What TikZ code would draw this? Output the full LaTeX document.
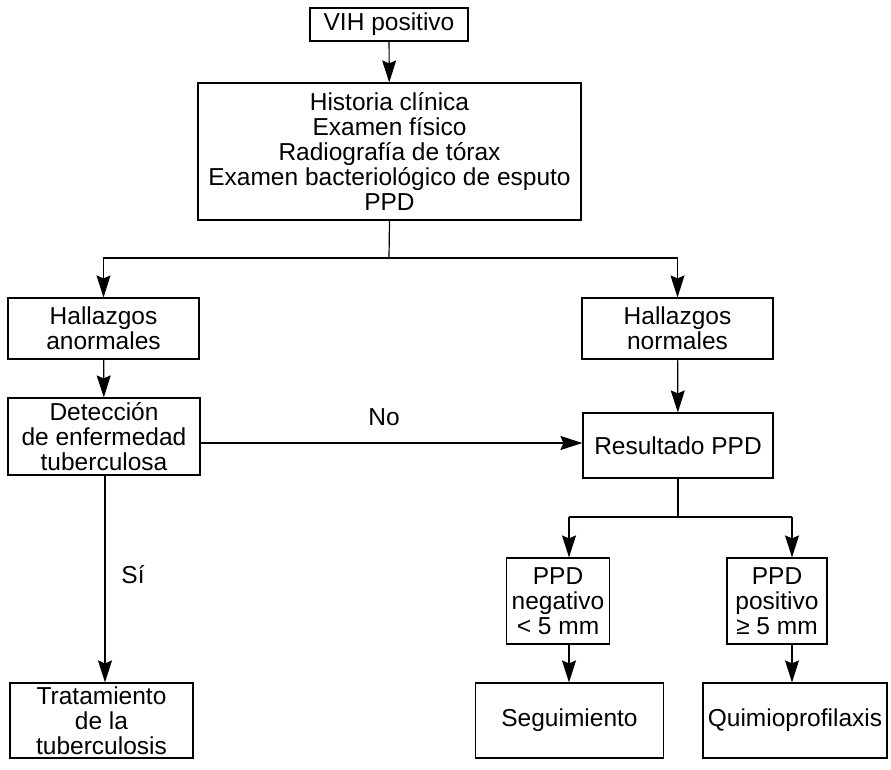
\documentclass[tikz,border=0pt]{standalone}
\usepackage{fontspec}
\setmainfont{Liberation Sans}
\usetikzlibrary{arrows.meta}

\tikzset{
    caja/.style={draw, line width=1.2pt, inner sep=0pt, align=center,
        font=\fontsize{24.5}{25}\selectfont},
    flecha/.style={line width=1.2pt, -{Stealth[length=22pt, width=14pt, inset=3pt]}},
    linea/.style={line width=1.2pt}
}

\begin{document}
\begin{tikzpicture}[x=1pt, y=-1pt]
    \useasboundingbox (0,0) rectangle (891,769);

    % boxes
    \node[caja, minimum width=158pt, minimum height=33pt] (vih) at (389,24.5) {VIH positivo};
    \node[caja, minimum width=383pt, minimum height=137pt] (hist) at (389.5,151.5)
        {Historia clínica\\Examen físico\\Radiografía de tórax\\Examen bacteriológico de esputo\\PPD};
    \node[caja, minimum width=191pt, minimum height=61pt] (anorm) at (103.5,328.5) {Hallazgos\\anormales};
    \node[caja, minimum width=192pt, minimum height=77pt] (detec) at (104,436.5)
        {Detección\\de enfermedad\\tuberculosa};
    \node[caja, minimum width=183pt, minimum height=75pt] (trat) at (101.5,720.5)
        {Tratamiento\\de la\\tuberculosis};
    \node[caja, minimum width=191pt, minimum height=61pt] (norm) at (677.5,328.5) {Hallazgos\\normales};
    \node[caja, minimum width=190pt, minimum height=65pt] (result) at (678,445.5) {Resultado PPD};
    \node[caja, minimum width=103pt, minimum height=86pt] (neg) at (558,601) {PPD\\negativo\\< 5 mm};
    \node[caja, minimum width=100pt, minimum height=86pt] (pos) at (777,601) {PPD\\positivo\\≥ 5 mm};
    \node[caja, minimum width=188pt, minimum height=75pt] (seg) at (569.5,720.5) {Seguimiento};
    \node[caja, minimum width=184pt, minimum height=75pt] (quim) at (795,720.5) {Quimioprofilaxis};

    % branch points
    \coordinate (rama1) at (389,258);
    \coordinate (rama2) at (678,517);
    \coordinate (ramaneg) at (569,517);
    \coordinate (ramapos) at (792,517);

    % connectors
    \draw[flecha] (vih) -- (hist);
    \draw[linea] (hist.south) -- (rama1);
    \draw[flecha] (rama1) -| (anorm.north);
    \draw[flecha] (rama1) -| (norm.north);
    \draw[flecha] (anorm) -- (detec);
    \draw[flecha] (detec.south -| 105,0) -- (trat.north -| 105,0);
    \draw[flecha] (detec.east |- 0,443) -- (result.west |- 0,443);
    \draw[flecha] (norm) -- (result);
    \draw[linea] (result.south) -- (rama2);
    \draw[linea] (ramaneg) -- (ramapos);
    \draw[flecha] (ramaneg) -- (ramaneg |- neg.north);
    \draw[flecha] (ramapos) -- (ramapos |- pos.north);
    \draw[flecha] (ramaneg |- neg.south) -- (ramaneg |- seg.north);
    \draw[flecha] (ramapos |- pos.south) -- (ramapos |- quim.north);

    % labels
    \node[font=\fontsize{24.5}{25}\selectfont] (no) at (384,417) {No};
    \node[font=\fontsize{24.5}{25}\selectfont] (si) at (133,575) {Sí};
\end{tikzpicture}
\end{document}
